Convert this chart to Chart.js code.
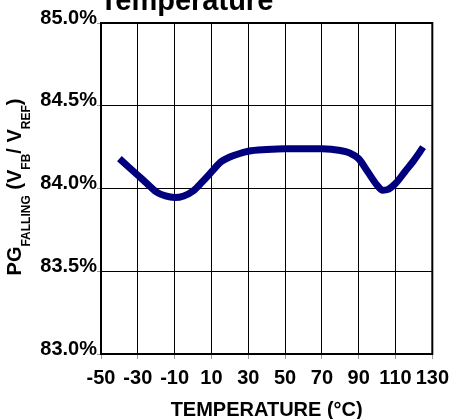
<!DOCTYPE html>
<html>
<head>
<meta charset="utf-8">
<script src="https://cdn.jsdelivr.net/npm/chart.js@4"></script>
<style>
  html, body { margin: 0; padding: 0; background: #ffffff; }
  #wrap { width: 456px; height: 419px; }
</style>
</head>
<body>
<div id="wrap"><canvas id="pgChart" width="456" height="419"></canvas></div>
<script>
/* --------------- Data --------------------- */
const temps = [-40, -35, -30, -25, -20, -15, -10, -5, 0, 5, 10, 15, 20, 25, 30, 40, 50, 60, 70, 80, 85, 90, 95, 100, 103, 106, 110, 115, 120, 125];
const pgFalling = [84.18, 84.13, 84.08, 84.03, 83.98, 83.955, 83.945, 83.955, 83.985, 84.04, 84.10, 84.16, 84.19, 84.21, 84.225, 84.235, 84.24, 84.24, 84.24, 84.23, 84.215, 84.18, 84.10, 84.02, 83.99, 83.995, 84.03, 84.10, 84.17, 84.25];
const xTicks = [-50, -30, -10, 10, 30, 50, 70, 90, 110, 130];
const yTicks = [83.0, 83.5, 84.0, 84.5, 85.0];
const chartTitle = "Temperature";
const xTitle = "TEMPERATURE (°C)";

const FONT = "'Liberation Sans', Arial, sans-serif";

/* --------------- Frame, Top Title And Y Title (with subscripts) --------------------- */
const extras = {
  id: "extras",
  beforeDatasetsDraw(chart) {
    const { ctx, chartArea: a } = chart;
    ctx.save();
    ctx.strokeStyle = "#000";
    ctx.lineWidth = 2;
    ctx.strokeRect(a.left, a.top, a.right - a.left, a.bottom - a.top);
    ctx.restore();
  },
  afterDraw(chart) {
    const { ctx, chartArea: a } = chart;
    ctx.save();
    ctx.fillStyle = "#000";
    // title, mostly cut off by the top edge
    ctx.font = "bold 29px " + FONT;
    ctx.textAlign = "center";
    ctx.textBaseline = "alphabetic";
    ctx.fillText(chartTitle, 186.5, 9.5);

    // rotated y title: PG_FALLING (V_FB / V_REF)
    const parts = [
      { t: "PG", sub: false },
      { t: "FALLING", sub: true },
      { t: " (V", sub: false },
      { t: "FB", sub: true },
      { t: "/ V", sub: false },
      { t: "REF", sub: true },
      { t: ")", sub: false },
    ];
    const big = "bold 20px " + FONT;
    const small = "bold 12px " + FONT;
    let total = 0;
    parts.forEach(p => {
      ctx.font = p.sub ? small : big;
      p.w = ctx.measureText(p.t).width;
      total += p.w;
    });
    ctx.translate(21, 187);
    ctx.rotate(-Math.PI / 2);
    ctx.textAlign = "left";
    let x = -total / 2;
    parts.forEach(p => {
      ctx.font = p.sub ? small : big;
      ctx.fillText(p.t, x, p.sub ? 9 : 0);
      x += p.w;
    });
    ctx.restore();
  },
};

/* --------------- Chart --------------------- */
const points = temps.map((t, i) => ({ x: t, y: pgFalling[i] }));

new Chart(document.getElementById("pgChart"), {
  type: "line",
  plugins: [extras],
  data: {
    datasets: [
      {
        data: points,
        borderColor: "#00007f",
        borderWidth: 7,
        pointRadius: 0,
        fill: false,
        cubicInterpolationMode: "monotone",
        borderCapStyle: "butt",
        borderJoinStyle: "round",
      },
    ],
  },
  options: {
    responsive: false,
    animation: false,
    layout: { padding: { top: 23, right: 19, left: 0, bottom: 0 } },
    plugins: {
      legend: { display: false },
      tooltip: { enabled: false },
    },
    scales: {
      x: {
        type: "linear",
        min: -50,
        max: 130,
        afterBuildTicks: (axis) => { axis.ticks = xTicks.map(v => ({ value: v })); },
        afterFit: (axis) => { axis.height = 65; },
        ticks: {
          autoSkip: false,
          maxRotation: 0,
          padding: 7,
          color: "#000",
          font: { family: FONT, size: 20, weight: "bold" },
          callback: (v) => String(v),
        },
        grid: { color: "#000", lineWidth: 1, tickColor: "#9a9a9a", tickLength: 5 },
        border: { display: false },
        title: {
          display: true,
          text: xTitle,
          color: "#000",
          font: { family: FONT, size: 20, weight: "bold" },
          padding: { top: -3, bottom: -3 },
        },
      },
      y: {
        min: 83,
        max: 85,
        afterBuildTicks: (axis) => { axis.ticks = yTicks.map(v => ({ value: v })); },
        afterFit: (axis) => { axis.width = 101; },
        ticks: {
          padding: 0,
          labelOffset: -5,
          color: "#000",
          font: { family: FONT, size: 20, weight: "bold" },
          callback: (v) => Number(v).toFixed(1) + "%",
        },
        grid: { color: "#000", lineWidth: 1, tickColor: "#9a9a9a", tickLength: 4 },
        border: { display: false },
      },
    },
  },
});
</script>
</body>
</html>
